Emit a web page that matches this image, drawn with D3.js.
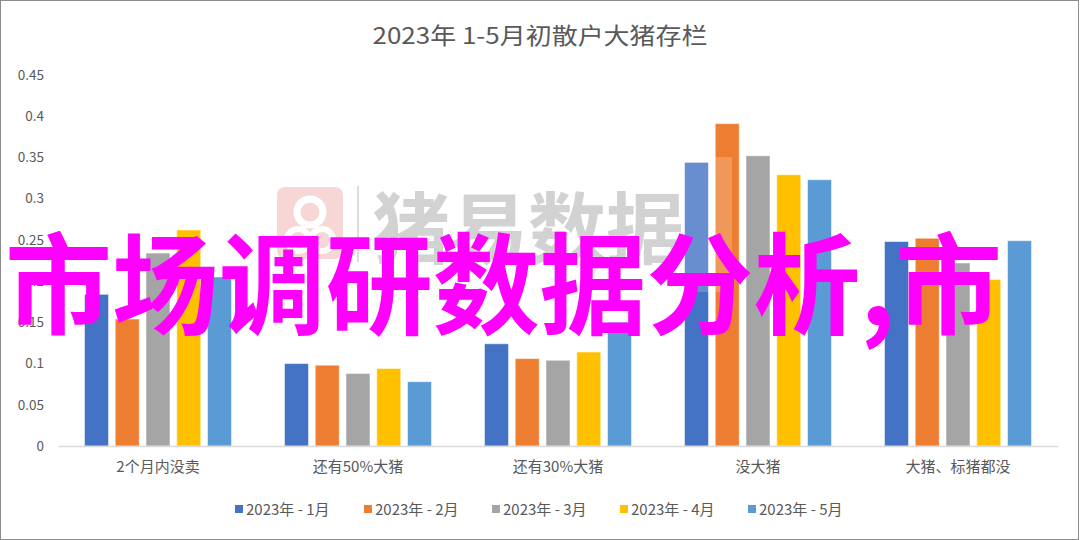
<!DOCTYPE html>
<html><head><meta charset="utf-8">
<script src="https://cdn.jsdelivr.net/npm/d3@7"></script>
<style>body{margin:0;background:#fff}svg{display:block}</style>
</head><body>
<svg id="c" width="1080" height="540"></svg>
<script>
const title = "2023年 1-5月初散户大猪存栏";
const categories = ["2个月内没卖","还有50%大猪","还有30%大猪","没大猪","大猪、标猪都没"];
const seriesNames = ["2023年 - 1月","2023年 - 2月","2023年 - 3月","2023年 - 4月","2023年 - 5月"];
const jan = [0.184, 0.100, 0.124, 0.344, 0.248];
const feb = [0.154, 0.098, 0.106, 0.391, 0.252];
const mar = [0.234, 0.088, 0.104, 0.352, 0.222];
const apr = [0.262, 0.094, 0.114, 0.329, 0.202];
const may = [0.205, 0.078, 0.150, 0.323, 0.249];
const yTicks = [0,0.05,0.1,0.15,0.2,0.25,0.3,0.35,0.4,0.45];
const colors = ["#4472c4","#ed7d31","#a5a5a5","#ffc000","#5b9bd5"];
const watermark = "猪易数据";
const overlayText = "市场调研数据分析,市";

const series = [jan,feb,mar,apr,may];
const svg = d3.select("#c");
const font = "'Noto Sans CJK SC','Noto Sans',sans-serif";

svg.append("rect").attr("x",0.5).attr("y",0.5).attr("width",1078).attr("height",539)
  .attr("fill","#fff").attr("stroke","#8c8c8c");

svg.append("text").attr("x",540).attr("y",44).attr("text-anchor","middle")
  .attr("font-family",font).attr("font-size",23).attr("fill","#595959")
  .attr("textLength",335).attr("lengthAdjust","spacingAndGlyphs").text(title);

const x0 = d3.scaleBand().domain(categories).range([58,1058]).paddingInner(0.265).paddingOuter(0.1325);
const x1 = d3.scaleBand().domain(d3.range(5)).range([0,x0.bandwidth()]).paddingInner(0.22).paddingOuter(0);
const y = d3.scaleLinear().domain([0,0.45]).range([446,75]);

// y axis
const ya = svg.append("g").attr("transform","translate(44,0)")
  .call(d3.axisLeft(y).tickValues(yTicks).tickSize(0).tickPadding(0).tickFormat(d=>String(+d.toFixed(2))));
ya.select(".domain").remove();
ya.selectAll("text").attr("font-family",font).attr("font-size",13.5).attr("fill","#595959");

// bars
const g = svg.append("g");
categories.forEach((c,ci)=>{
  series.forEach((s,si)=>{
    g.append("rect").attr("x",x0(c)+x1(si)).attr("y",y(s[ci]))
      .attr("width",x1.bandwidth()).attr("height",y(0)-y(s[ci]))
      .attr("fill",colors[si]).attr("stroke","#fff").attr("stroke-opacity",0.5).attr("stroke-width",1);
  });
});

// x axis
const xa = svg.append("g").attr("transform","translate(0,446)")
  .call(d3.axisBottom(x0).tickSize(0).tickPadding(15));
xa.select(".domain").attr("stroke","#d9d9d9").attr("stroke-width",1.5);
xa.selectAll("text").attr("font-family",font).attr("font-size",15).attr("fill","#595959");

// watermark
const wm = svg.append("g");
wm.append("rect").attr("x",270).attr("y",157).attr("width",462).attr("height",135)
  .attr("fill","#fff").attr("opacity",0.2);
wm.append("rect").attr("x",277).attr("y",187).attr("width",66).attr("height",72).attr("rx",8)
  .attr("fill","#f6cfcf").attr("opacity",0.85);
wm.append("circle").attr("cx",310).attr("cy",212).attr("r",13).attr("fill","none").attr("stroke","#fff").attr("stroke-width",7);
wm.append("circle").attr("cx",298).attr("cy",240).attr("r",11).attr("fill","none").attr("stroke","#fff").attr("stroke-width",6);
wm.append("circle").attr("cx",322).attr("cy",240).attr("r",11).attr("fill","none").attr("stroke","#fff").attr("stroke-width",6);
wm.append("line").attr("x1",358).attr("x2",358).attr("y1",186).attr("y2",262).attr("stroke","#dcdcdc").attr("stroke-width",2);
wm.append("text").attr("x",372).attr("y",258).attr("font-family",font).attr("font-weight",700)
  .attr("font-size",78).attr("fill","#d2d2d2").attr("textLength",312).attr("lengthAdjust","spacingAndGlyphs").text(watermark);

// legend
const lg = svg.append("g");
const legX = [235,364,492,620,748];
seriesNames.forEach((n,i)=>{
  lg.append("rect").attr("x",legX[i]).attr("y",505).attr("width",8).attr("height",8).attr("fill",colors[i]);
  lg.append("text").attr("x",legX[i]+11).attr("y",515).attr("font-family",font).attr("font-size",15)
    .attr("fill","#595959").text(n);
});

// overlay text
svg.append("text").attr("x",5).attr("y",326).attr("font-family",font).attr("font-weight",700)
  .attr("font-size",110).attr("fill","#ff00ff").attr("textLength",997).attr("lengthAdjust","spacingAndGlyphs")
  .text(overlayText);
</script>
</body></html>
